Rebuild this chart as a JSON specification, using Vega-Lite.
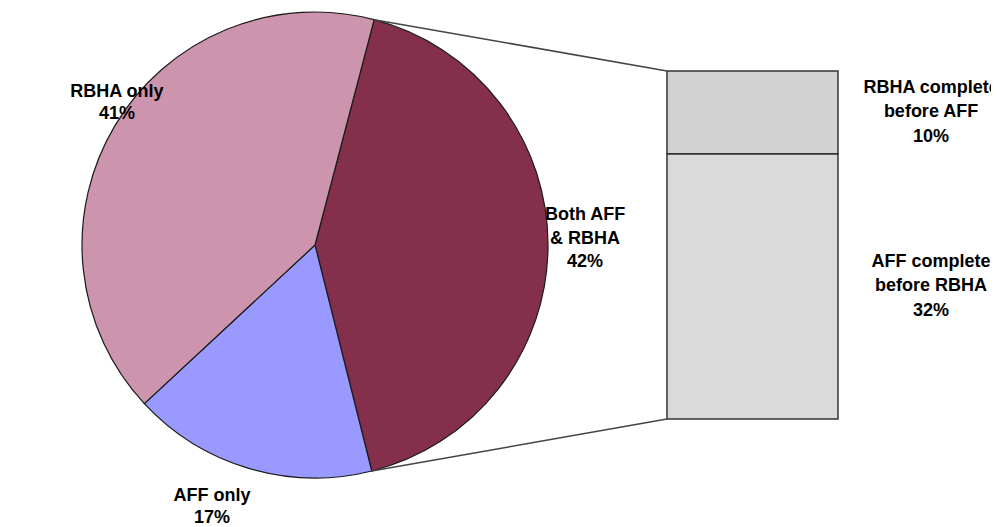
{
  "$schema": "https://vega.github.io/schema/vega-lite/v6.json",
  "width": 991,
  "height": 527,
  "autosize": "none",
  "padding": 0,
  "background": "white",
  "config": {"view": {"stroke": null}},
  "datasets": {
    "slices": [
      {"name": "Both AFF\n& RBHA", "value": 42, "seq": 1},
      {"name": "AFF only", "value": 17, "seq": 2},
      {"name": "RBHA only", "value": 41, "seq": 3}
    ],
    "split": [
      {"name": "AFF complete\nbefore RBHA", "value": 32, "seq": 1},
      {"name": "RBHA complete\nbefore AFF", "value": 10, "seq": 2}
    ]
  },
  "layer": [
    {
      "data": {"name": "slices"},
      "mark": {"type": "arc", "radius": 233, "stroke": "#1a1a1a", "strokeWidth": 1.2},
      "encoding": {
        "x": {"datum": 0, "type": "quantitative", "scale": {"domain": [-1.352, 2.9013], "nice": false, "zero": false}, "axis": null},
        "y": {"datum": 21, "type": "quantitative", "scale": {"domain": [-13.03, 50.57], "nice": false, "zero": false}, "axis": null},
        "theta": {"field": "value", "type": "quantitative", "stack": true, "scale": {"domain": [0, 100], "range": [0.2566, 6.5398]}},
        "order": {"field": "seq", "type": "quantitative"},
        "color": {
          "field": "name", "type": "nominal", "legend": null,
          "scale": {
            "domain": ["Both AFF\n& RBHA", "AFF only", "RBHA only", "AFF complete\nbefore RBHA", "RBHA complete\nbefore AFF"],
            "range": ["#84304c", "#9999ff", "#cc94ad", "#dadada", "#d2d2d2"]
          }
        }
      }
    },
    {
      "data": {"name": "split"},
      "transform": [
        {"stack": "value", "groupby": [], "sort": [{"field": "seq", "order": "ascending"}], "as": ["v0", "v1"]}
      ],
      "mark": {"type": "rect", "stroke": "#333333", "strokeWidth": 1.5},
      "encoding": {
        "x": {"datum": 1.5107, "type": "quantitative"},
        "x2": {"datum": 2.2446},
        "y": {"field": "v0", "type": "quantitative"},
        "y2": {"field": "v1"},
        "color": {"field": "name", "type": "nominal", "legend": null}
      }
    },
    {
      "data": {"values": [{}]},
      "mark": {"type": "rule", "stroke": "#444444", "strokeWidth": 1.5},
      "encoding": {
        "x": {"datum": 0.2538, "type": "quantitative"},
        "y": {"datum": 48.2, "type": "quantitative"},
        "x2": {"datum": 1.5107},
        "y2": {"datum": 42}
      }
    },
    {
      "data": {"values": [{}]},
      "mark": {"type": "rule", "stroke": "#444444", "strokeWidth": 1.5},
      "encoding": {
        "x": {"datum": 0.2436, "type": "quantitative"},
        "y": {"datum": -6.27, "type": "quantitative"},
        "x2": {"datum": 1.5107},
        "y2": {"datum": 0}
      }
    },
    {
      "data": {"name": "slices"},
      "transform": [
        {"filter": "datum.seq == 1"},
        {"calculate": "datum.name + '\\n' + datum.value + '%'", "as": "label"}
      ],
      "mark": {"type": "text", "lineBreak": "\n", "font": "Liberation Sans", "fontWeight": "bold", "fontSize": 18, "lineHeight": 23.5, "color": "black"},
      "encoding": {
        "x": {"datum": 1.159, "type": "quantitative"},
        "y": {"datum": 24.62, "type": "quantitative"},
        "text": {"field": "label"}
      }
    },
    {
      "data": {"name": "slices"},
      "transform": [
        {"filter": "datum.seq == 2"},
        {"calculate": "datum.name + '\\n' + datum.value + '%'", "as": "label"}
      ],
      "mark": {"type": "text", "lineBreak": "\n", "font": "Liberation Sans", "fontWeight": "bold", "fontSize": 18, "lineHeight": 22, "color": "black"},
      "encoding": {
        "x": {"datum": -0.442, "type": "quantitative"},
        "y": {"datum": -9.29, "type": "quantitative"},
        "text": {"field": "label"}
      }
    },
    {
      "data": {"name": "slices"},
      "transform": [
        {"filter": "datum.seq == 3"},
        {"calculate": "datum.name + '\\n' + datum.value + '%'", "as": "label"}
      ],
      "mark": {"type": "text", "lineBreak": "\n", "font": "Liberation Sans", "fontWeight": "bold", "fontSize": 18, "lineHeight": 22, "color": "black"},
      "encoding": {
        "x": {"datum": -0.85, "type": "quantitative"},
        "y": {"datum": 39.46, "type": "quantitative"},
        "text": {"field": "label"}
      }
    },
    {
      "data": {"name": "split"},
      "transform": [
        {"stack": "value", "groupby": [], "sort": [{"field": "seq", "order": "ascending"}], "as": ["v0", "v1"]},
        {"calculate": "(datum.v0 + datum.v1) / 2", "as": "vmid"},
        {"calculate": "datum.name + '\\n' + datum.value + '%'", "as": "label"}
      ],
      "mark": {"type": "text", "lineBreak": "\n", "font": "Liberation Sans", "fontWeight": "bold", "fontSize": 18, "lineHeight": 24.5, "dy": -24.5, "color": "black", "clip": true},
      "encoding": {
        "x": {"datum": 2.644, "type": "quantitative"},
        "y": {"field": "vmid", "type": "quantitative"},
        "text": {"field": "label"}
      }
    }
  ]
}
